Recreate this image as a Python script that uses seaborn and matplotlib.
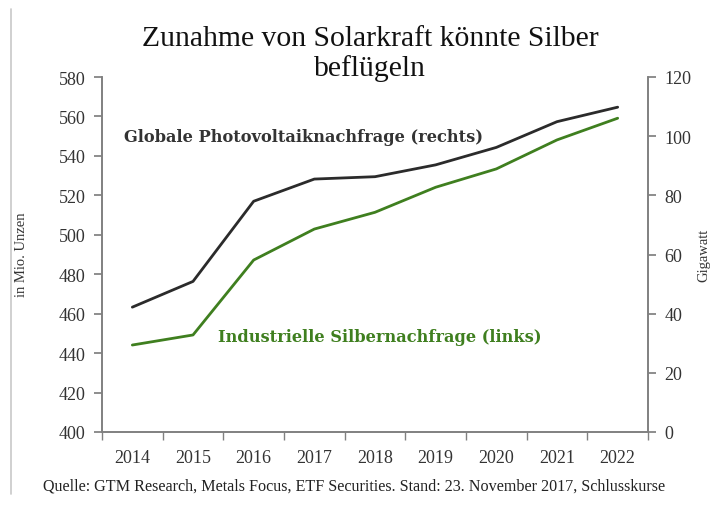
import matplotlib.pyplot as plt
import matplotlib.lines as mlines
import numpy as np
import pandas as pd
import seaborn as sns

sns.set_theme(style='white')
plt.rcParams['font.family'] = ['Liberation Serif', 'DejaVu Serif']

years = ['2014', '2015', '2016', '2017', '2018', '2019', '2020', '2021', '2022']
silver_demand = [444.1, 449.2, 487.2, 502.9, 511.4, 524.1, 533.4, 548.1, 559.1]  # Mio. Unzen (links)
pv_demand = [42.2, 50.9, 78.0, 85.5, 86.3, 90.3, 96.2, 104.9, 109.8]  # Gigawatt (rechts)

df = pd.DataFrame({'Jahr': years, 'Silber': silver_demand, 'PV': pv_demand})

grey = '#808080'
black_line = '#2b2b2b'
green_line = '#3f7f1f'

fig = plt.figure(figsize=(7.13, 5.06), dpi=100)
ax = fig.add_axes([102 / 713, 1 - 433 / 506, 546 / 713, 355 / 506])
ax2 = ax.twinx()

sns.lineplot(data=df, x='Jahr', y='Silber', ax=ax, color=green_line, linewidth=2)
sns.lineplot(data=df, x='Jahr', y='PV', ax=ax2, color=black_line, linewidth=2)

ax.set_xlim(-0.5, len(years) - 0.5)
ax.set_ylim(400, 580)
ax.set_yticks(np.arange(400, 581, 20))
ax2.set_ylim(0, 120)
ax2.set_yticks(np.arange(0, 121, 20))

# ticks between the categories on the x axis
ax.set_xticks(np.arange(len(years)))
ax.set_xticklabels(years)
ax.set_xticks(np.arange(-0.5, len(years)), minor=True)
ax.tick_params(axis='x', which='major', length=0, pad=12, labelsize=13, colors='#333333')
ax.tick_params(axis='x', which='minor', length=6, color=grey, direction='out', bottom=True)
ax.tick_params(axis='y', length=6, color=grey, direction='out', left=True, labelsize=13,
               labelcolor='#333333', pad=6)
ax2.tick_params(axis='y', length=6, color=grey, direction='out', right=True, labelsize=13,
                labelcolor='#333333', pad=6)

for a in (ax, ax2):
    a.spines['top'].set_visible(False)
    for s in ('left', 'right', 'bottom'):
        a.spines[s].set_color(grey)
        a.spines[s].set_linewidth(1.2)
    a.set_xlabel('')
    a.set_ylabel('')

fig.text(22 / 713, 1 - 255 / 506, 'in Mio. Unzen', rotation=90, ha='center', va='center',
         fontsize=10.5, color='#333333')
fig.text(704 / 713, 1 - 255 / 506, 'Gigawatt', rotation=90, ha='center', va='center',
         fontsize=10.5, color='#333333')

fig.text(370 / 713, 1 - 54 / 506, 'Zunahme von Solarkraft könnte Silber\nbeflügeln',
         ha='center', va='center', fontsize=21.3, color='#111111', linespacing=1.1)

fig.text(124 / 713, 1 - 137 / 506, 'Globale Photovoltaiknachfrage (rechts)', ha='left', va='center',
         fontsize=11.7, fontweight='bold', color='#333333', family='DejaVu Serif')
fig.text(218 / 713, 1 - 337 / 506, 'Industrielle Silbernachfrage (links)', ha='left', va='center',
         fontsize=11.7, fontweight='bold', color=green_line, family='DejaVu Serif')

fig.text(354 / 713, 1 - 487 / 506,
         'Quelle: GTM Research, Metals Focus, ETF Securities. Stand: 23. November 2017, Schlusskurse',
         ha='center', va='center', fontsize=11.6, color='#222222')

# thin grey frame line at the left edge
fig.add_artist(mlines.Line2D([11 / 713, 11 / 713], [1 - 495 / 506, 1 - 10 / 506],
                             color='#c8c8c8', linewidth=1.2))

fig.savefig('out.png', dpi=100)
